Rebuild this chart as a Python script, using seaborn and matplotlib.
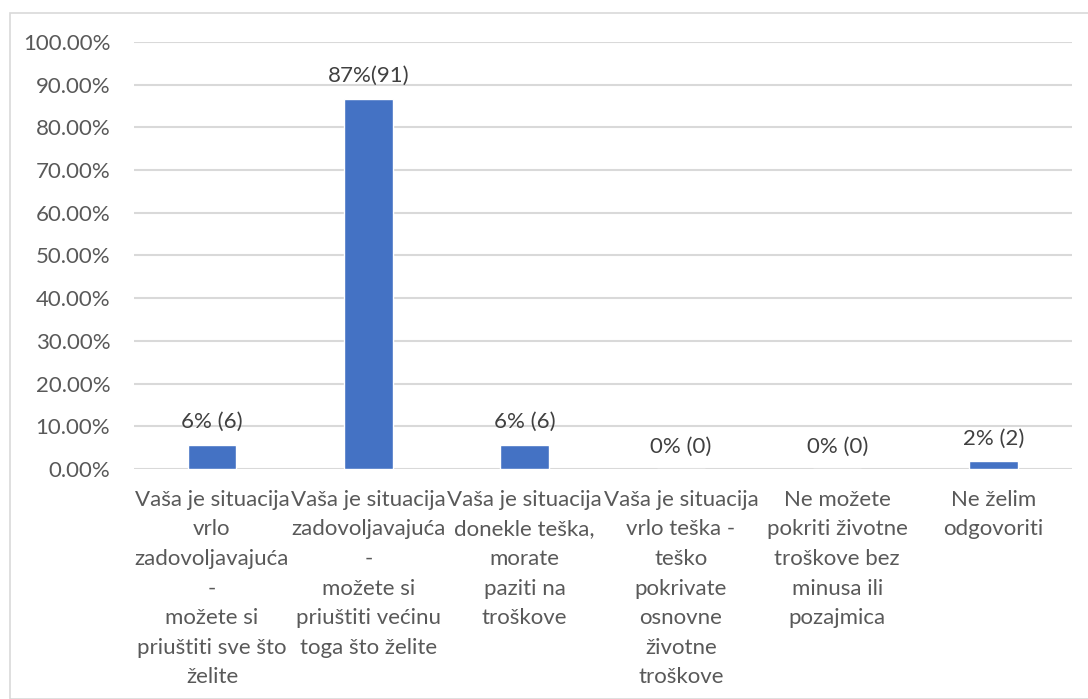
import matplotlib
matplotlib.use("Agg")
import matplotlib.pyplot as plt
import matplotlib.patches as mpatches
import numpy as np
import pandas as pd
import seaborn as sns

categories = [
    "Vaša je situacija\nvrlo\nzadovoljavajuća\n-\nmožete si\npriuštiti sve što\nželite",
    "Vaša je situacija\nzadovoljavajuća\n-\nmožete si\npriuštiti većinu\ntoga što želite",
    "Vaša je situacija\ndonekle teška,\nmorate\npaziti na\ntroškove",
    "Vaša je situacija\nvrlo teška -\nteško\npokrivate\nosnovne\nživotne\ntroškove",
    "Ne možete\npokriti životne\ntroškove bez\nminusa ili\npozajmica",
    "Ne želim\nodgovoriti",
]
shares = [5.7, 86.7, 5.7, 0.0, 0.0, 1.9]
value_labels = ["6% (6)", "87%(91)", "6% (6)", "0% (0)", "0% (0)", "2% (2)"]
y_ticks = [0, 10, 20, 30, 40, 50, 60, 70, 80, 90, 100]

sns.set_theme(style="white")
plt.rcParams["font.family"] = ["Lato", "DejaVu Sans"]

df = pd.DataFrame({"category": categories, "share": shares})

fig = plt.figure(figsize=(10.88, 6.99), dpi=100)
ax = fig.add_axes([0.123, 0.329, 0.862, 0.611])

sns.barplot(data=df, x="category", y="share", color="#4472C4",
            saturation=1, width=0.31, ax=ax, zorder=3)

ax.set_ylim(0, 100)
ax.set_xlim(-0.5, len(categories) - 0.5)
ax.set_yticks(y_ticks)
ax.set_yticklabels([f"{t:.2f}%" for t in y_ticks])
ax.yaxis.grid(True, color="#d9d9d9", linewidth=1.5, zorder=0)
ax.set_axisbelow(True)
for s in ax.spines.values():
    s.set_visible(False)
ax.tick_params(axis="y", length=0, pad=17, labelsize=16, labelcolor="#595959")
ax.tick_params(axis="x", length=0, pad=15, labelsize=16, labelcolor="#595959")
for lbl in ax.get_xticklabels():
    lbl.set_linespacing(1.6)
    lbl.set_horizontalalignment("center")
ax.set_xlabel("")
ax.set_ylabel("")

ax.bar_label(ax.containers[0], labels=value_labels, padding=9,
             fontsize=16, color="#404040")

border = mpatches.Rectangle((10 / 1088, 0), 1.0, 1 - 13 / 699,
                            transform=fig.transFigure, fill=False,
                            edgecolor="#d9d9d9", linewidth=1.2)
fig.patches.append(border)

fig.savefig("out.png", dpi=100)
